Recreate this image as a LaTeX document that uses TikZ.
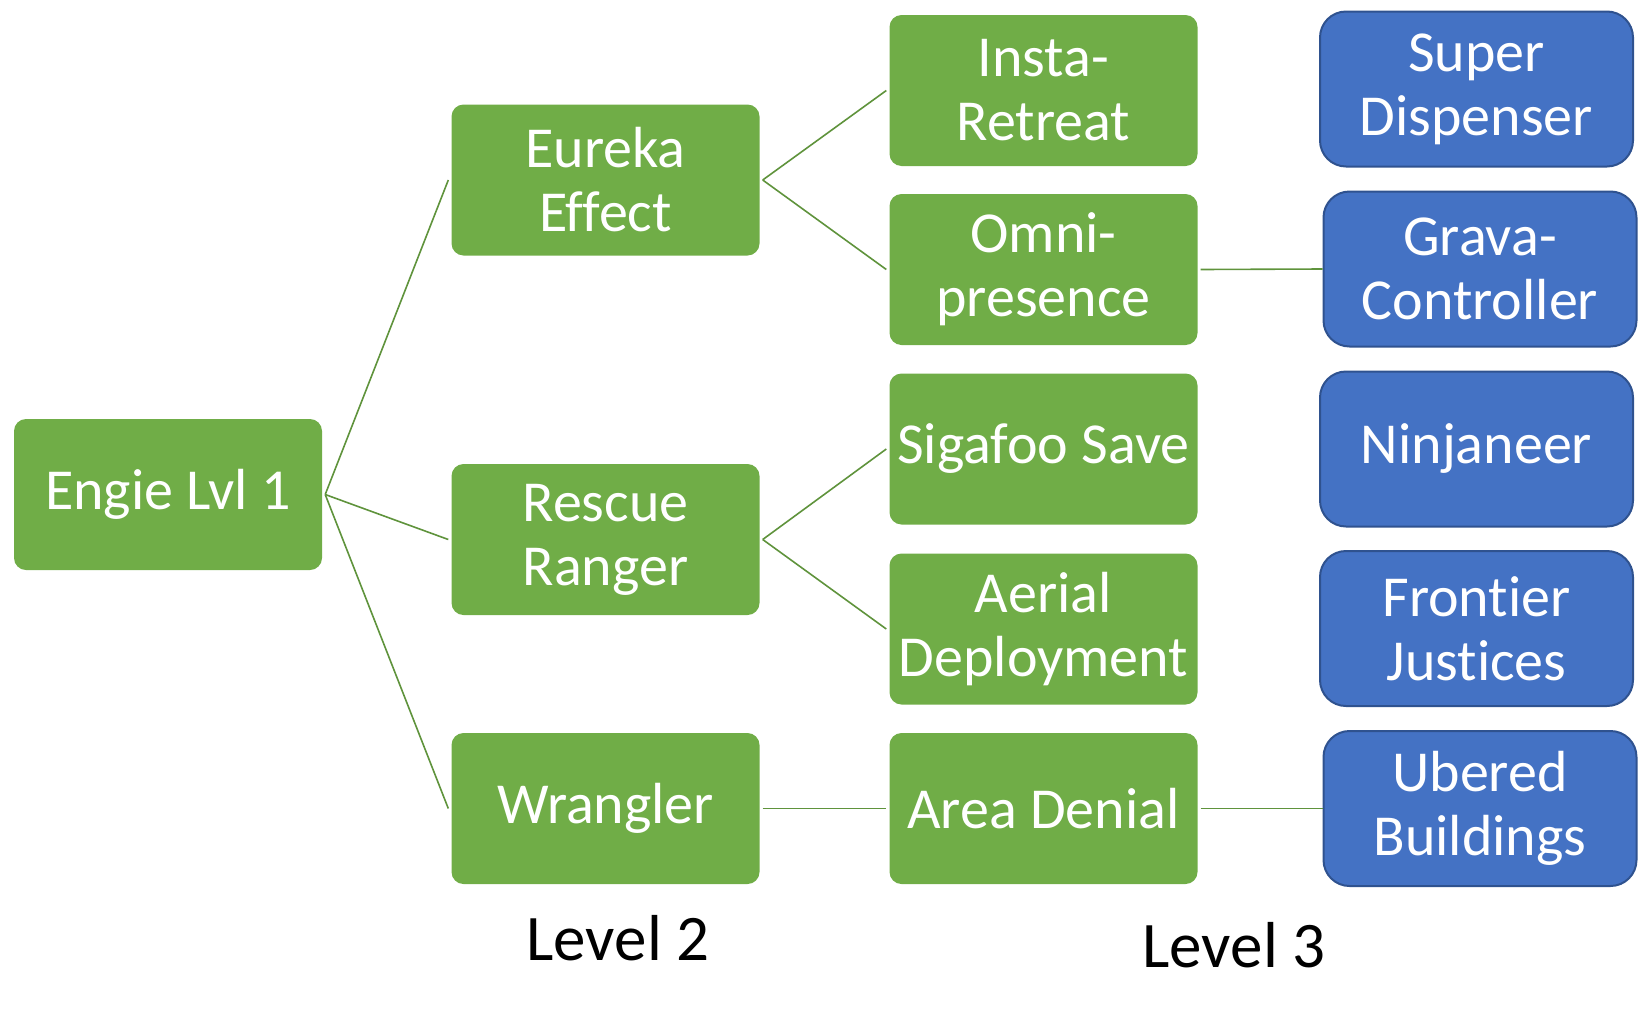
\documentclass[tikz,border=0pt]{standalone}
\usepackage{fontspec}
\setmainfont{Carlito}[Ligatures={NoCommon,NoRequired,NoContextual}]
\definecolor{gfill}{HTML}{70AD47}
\definecolor{bfill}{HTML}{4472C4}
\definecolor{bline}{HTML}{2F528F}
\begin{document}
\begin{tikzpicture}[x=1pt,y=-1pt,
  gbox/.style={fill=gfill, rounded corners=12pt, text=white, align=center,
    minimum width=308pt, minimum height=151pt, inner sep=0pt,
    font=\fontsize{58}{64}\selectfont},
  bbox/.style={fill=bfill, draw=bline, line width=2pt, rounded corners=26pt, text=white, align=center,
    minimum width=313pt, minimum height=155pt, inner sep=0pt,
    font=\fontsize{58}{64}\selectfont},
  conn/.style={draw=gfill!85!black, line width=1.6pt},
  lvl/.style={font=\fontsize{65}{65}\selectfont, anchor=base, inner sep=0pt}]
\useasboundingbox (0,0) rectangle (1649,1023);
\node[gbox] (engie) at (168,494.5) {Engie Lvl 1};
\node[gbox] (eureka) at (605.5,180) {Eureka\\Effect};
\node[gbox] (rescue) at (605.5,539.5) {Rescue\\Ranger};
\node[gbox] (wrangler) at (605.5,808.5) {Wrangler};
\node[gbox] (insta) at (1043.5,90.5) {Insta-\\Retreat};
\node[gbox] (omni) at (1043.5,269.5) {Omni-\\presence};
\node[gbox] (sigafoo) at (1043.5,449) {Sigafoo Save};
\node[gbox] (aerial) at (1043.5,629) {Aerial\\Deployment};
\node[gbox] (area) at (1043.5,808.5) {Area Denial};
\node[bbox] (super) at (1476.5,89) {Super\\Dispenser};
\node[bbox] (grava) at (1480,269) {Grava-\\Controller};
\node[bbox] (ninja) at (1476.5,449) {Ninjaneer};
\node[bbox] (frontier) at (1476.5,628.5) {Frontier\\Justices};
\node[bbox] (ubered) at (1480,808.5) {Ubered\\Buildings};
\draw[conn] ([xshift=3pt]engie.east) -- ([xshift=-3pt]eureka.west);
\draw[conn] ([xshift=3pt]engie.east) -- ([xshift=-3pt]rescue.west);
\draw[conn] ([xshift=3pt]engie.east) -- ([xshift=-3pt]wrangler.west);
\draw[conn] ([xshift=3pt]eureka.east) -- ([xshift=-3pt]insta.west);
\draw[conn] ([xshift=3pt]eureka.east) -- ([xshift=-3pt]omni.west);
\draw[conn] ([xshift=3pt]rescue.east) -- ([xshift=-3pt]sigafoo.west);
\draw[conn] ([xshift=3pt]rescue.east) -- ([xshift=-3pt]aerial.west);
\draw[conn] ([xshift=3pt]wrangler.east) -- ([xshift=-3pt]area.west);
\draw[conn] ([xshift=3pt]omni.east) -- (grava.west);
\draw[conn] ([xshift=3pt]area.east) -- (ubered.west);
\node[lvl] (lvl2) at (618,960) {Level 2};
\node[lvl] (lvl3) at (1234,967.5) {Level 3};
\end{tikzpicture}
\end{document}
